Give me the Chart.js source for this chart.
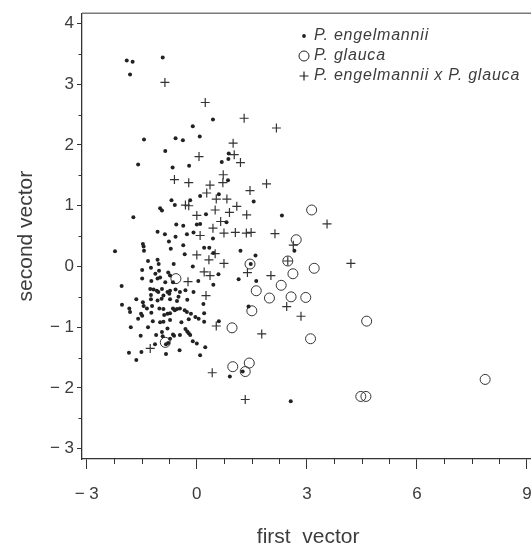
<!DOCTYPE html>
<html><head><meta charset="utf-8">
<script src="https://cdn.jsdelivr.net/npm/chart.js@4/dist/chart.umd.min.js"></script>
<style>
html,body{margin:0;padding:0;background:#fff;overflow:hidden;width:531px;height:550px}
#wrap{position:relative;width:560px;height:550px}
</style>
</head><body><div id="wrap"><canvas id="c" width="560" height="550"></canvas></div>
<script>
const seriesNames = ['P. engelmannii', 'P. glauca', 'P. engelmannii x P. glauca'];

const engelmanniiX = [-1.91,-1.75,-0.93,-1.82,0.44,-0.11,-1.44,-0.58,-0.38,0.08,-0.86,0.87,-1.60,-0.66,-0.21,0.68,0.86,0.85,-0.69,-0.18,0.09,0.60,1.55,
-0.60,-1.00,-0.95,0.25,-1.73,-0.56,-0.37,0.00,0.09,-1.07,-0.87,-0.58,-0.27,-0.09,-0.76,-0.37,-1.47,-1.45,-1.44,-0.71,-2.23,-0.33,0.20,0.34,1.19,1.60,0.45,
-1.33,-1.07,-1.04,-0.63,-1.49,-1.25,-1.03,-0.11,0.59,-1.49,-1.13,-1.07,-1.00,-0.78,-0.73,-0.65,-1.24,-0.86,0.04,0.45,1.14,1.62,
-2.05,-1.27,-1.18,-1.09,-1.05,-0.95,-0.80,-0.73,-0.58,-0.46,-0.31,-0.09,-1.25,-0.91,-0.75,-0.50,-1.65,-1.47,-1.25,-1.07,-0.96,-0.73,-0.54,-0.26,
-2.04,-1.84,-1.45,-1.36,-1.22,-1.02,-0.91,-0.65,-0.60,-0.46,-0.33,0.18,-1.82,-1.60,-1.49,-1.52,-1.24,-0.89,-0.80,-0.73,-0.54,-0.27,-0.16,0.20,-0.04,0.05,
-1.20,-0.91,-0.73,-0.42,-0.22,0.20,0.60,-1.80,-1.33,-1.00,-0.95,-0.80,-0.65,-0.62,-0.46,-0.31,-0.26,-0.18,-0.22,-1.53,-1.11,-0.93,-0.73,
-0.84,-0.78,-0.11,0.00,0.23,-0.47,-1.85,-1.51,-0.84,0.09,
-1.65,-1.14,0.90,1.25,2.56,0.81,0.44,2.32,2.66,1.47,1.41];
const engelmanniiY = [3.39,3.37,3.44,3.16,2.42,2.31,2.09,2.11,2.08,2.14,1.90,1.86,1.68,1.63,1.66,1.72,1.77,1.42,1.09,1.09,1.16,1.19,1.07,
1.01,0.96,0.92,0.86,0.81,0.69,0.67,0.69,0.70,0.57,0.53,0.49,0.53,0.56,0.41,0.35,0.37,0.33,0.26,0.29,0.25,0.20,0.31,0.31,0.26,0.18,0.22,
0.09,0.11,0.04,0.04,-0.06,-0.02,-0.07,0.00,-0.13,-0.20,-0.12,-0.20,-0.18,-0.10,-0.15,-0.26,-0.24,-0.26,-0.24,-0.30,-0.21,-0.24,
-0.32,-0.37,-0.38,-0.40,-0.42,-0.37,-0.42,-0.40,-0.38,-0.42,-0.39,-0.42,-0.47,-0.48,-0.45,-0.50,-0.54,-0.59,-0.54,-0.56,-0.53,-0.54,-0.57,-0.55,
-0.63,-0.69,-0.65,-0.69,-0.65,-0.69,-0.70,-0.69,-0.72,-0.69,-0.72,-0.62,-0.75,-0.86,-0.81,-0.78,-0.76,-0.80,-0.78,-0.77,-0.70,-0.75,-0.78,-0.77,-0.83,-0.86,
-0.90,-0.91,-0.88,-0.92,-0.87,-0.91,-0.90,-1.00,-1.00,-0.92,-1.08,-1.02,-1.12,-1.14,-1.13,-1.03,-1.07,-1.13,-1.10,-1.14,-1.13,-1.15,-1.19,
-1.28,-1.26,-1.23,-1.27,-1.33,-1.38,-1.42,-1.41,-1.44,-1.46,
-1.54,-1.28,-1.81,-1.73,-2.22,0.73,0.46,0.84,0.26,0.04,-0.66];

const glaucaX = [3.13,2.71,2.48,1.45,3.20,2.62,2.30,1.62,1.98,2.57,2.97,1.50,4.63,0.96,3.10,1.43,0.98,1.32,4.47,4.61,7.86,-0.57,-0.86];
const glaucaY = [0.93,0.44,0.09,0.04,-0.03,-0.12,-0.31,-0.40,-0.52,-0.50,-0.51,-0.73,-0.90,-1.01,-1.19,-1.59,-1.65,-1.73,-2.14,-2.14,-1.86,-0.20,-1.25];

const hybridX = [-0.87,0.23,1.29,2.17,0.99,0.06,1.02,1.19,0.72,-0.61,-0.22,0.36,0.71,1.90,1.45,0.27,0.53,0.82,
-0.31,-0.22,0.00,0.50,0.89,1.09,1.36,0.65,0.44,0.74,1.05,1.35,1.48,2.13,0.09,3.55,2.63,2.48,4.20,0.74,0.00,0.33,0.50,
0.20,0.36,1.38,2.02,-0.24,0.25,2.45,2.84,0.53,1.77,-1.27,0.42,1.32];
const hybridY = [3.03,2.70,2.44,2.28,2.03,1.81,1.84,1.71,1.51,1.43,1.38,1.34,1.38,1.36,1.25,1.21,1.11,1.11,
1.01,1.00,0.84,0.93,0.89,0.99,0.85,0.74,0.63,0.55,0.56,0.55,0.56,0.54,0.51,0.70,0.35,0.09,0.05,0.05,0.19,0.11,0.21,
-0.09,-0.15,-0.10,-0.15,-0.25,-0.48,-0.66,-0.82,-0.98,-1.11,-1.35,-1.75,-2.19];

const xTickValues = [-3, 0, 3, 6, 9];
const yTickValues = [-3, -2, -1, 0, 1, 2, 3, 4];
const xMinorStep = 0.75;
const yMinorStep = 0.5;
const xTitle = 'first  vector';
const yTitle = 'second vector';

const toPts = (xs, ys) => xs.map((x, i) => ({x: x, y: ys[i]}));
const fmt = v => v < 0 ? '\u2212 ' + Math.abs(v) : String(v);

const markColor = '#222';
const textColor = '#3c3c3c';
const FONT = '"Liberation Sans", Arial, sans-serif';

const extras = {
  id: 'extras',
  afterDraw(chart) {
    const ctx = chart.ctx;
    const a = chart.chartArea;
    const xs = chart.scales.x, ys = chart.scales.y;
    ctx.save();
    ctx.strokeStyle = '#7a7a7a';
    ctx.lineWidth = 1.5;
    ctx.beginPath();
    ctx.moveTo(a.left, a.top); ctx.lineTo(a.right, a.top); ctx.lineTo(a.right, a.bottom);
    ctx.stroke();
    ctx.strokeStyle = '#333';
    ctx.lineWidth = 1;
    const x0 = xTickValues[0], x1 = xTickValues[xTickValues.length - 1];
    for (let v = x0; v <= x1 + 1e-9; v += xMinorStep) {
      if (xTickValues.some(t => Math.abs(t - v) < 1e-6)) continue;
      const px = Math.round(xs.getPixelForValue(v)) + 0.5;
      ctx.beginPath(); ctx.moveTo(px, a.bottom); ctx.lineTo(px, a.bottom + 5); ctx.stroke();
    }
    const y0 = yTickValues[0], y1 = yTickValues[yTickValues.length - 1];
    for (let v = y0; v <= y1 + 1e-9; v += yMinorStep) {
      if (yTickValues.some(t => Math.abs(t - v) < 1e-6)) continue;
      const py = Math.round(ys.getPixelForValue(v)) + 0.5;
      ctx.beginPath(); ctx.moveTo(a.left - 3.5, py); ctx.lineTo(a.left, py); ctx.stroke();
    }
    const lx = 304, ly = 36, gap = 20;
    ctx.font = 'italic 16px ' + FONT;
    try { ctx.letterSpacing = '0.8px'; } catch (e) {}
    ctx.textBaseline = 'middle';
    seriesNames.forEach((name, i) => {
      const y = ly + i * gap;
      ctx.strokeStyle = markColor; ctx.fillStyle = markColor;
      if (i === 0) {
        ctx.beginPath(); ctx.arc(lx, y, 1.9, 0, Math.PI * 2); ctx.fill();
      } else if (i === 1) {
        ctx.lineWidth = 1; ctx.beginPath(); ctx.arc(lx, y, 5, 0, Math.PI * 2); ctx.stroke();
      } else {
        ctx.lineWidth = 1.2; ctx.beginPath();
        ctx.moveTo(lx - 4.5, y); ctx.lineTo(lx + 4.5, y); ctx.moveTo(lx, y - 4.5); ctx.lineTo(lx, y + 4.5); ctx.stroke();
      }
      ctx.fillStyle = textColor;
      ctx.fillText(name, lx + 10, y);
    });
    ctx.restore();
  }
};

new Chart(document.getElementById('c'), {
  type: 'scatter',
  data: {
    datasets: [
      {label: seriesNames[0], data: toPts(engelmanniiX, engelmanniiY), pointStyle: 'circle', pointRadius: 2,
       pointBackgroundColor: markColor, pointBorderWidth: 0, pointBorderColor: markColor},
      {label: seriesNames[1], data: toPts(glaucaX, glaucaY), pointStyle: 'circle', pointRadius: 5,
       pointBackgroundColor: 'rgba(0,0,0,0)', pointBorderColor: '#333', pointBorderWidth: 1},
      {label: seriesNames[2], data: toPts(hybridX, hybridY), pointStyle: 'cross', pointRadius: 4.5,
       pointBorderColor: '#333', pointBorderWidth: 1.2}
    ]
  },
  options: {
    responsive: false,
    animation: false,
    devicePixelRatio: 1,
    layout: {padding: {top: 10, right: 25.7, left: 0, bottom: 0}},
    plugins: {legend: {display: false}, tooltip: {enabled: false}},
    scales: {
      x: {
        type: 'linear', min: -3.13, max: 9.2,
        afterBuildTicks: s => { s.ticks = xTickValues.map(v => ({value: v})); },
        afterFit: s => { s.height = 91; },
        grid: {drawOnChartArea: false, drawTicks: true, tickLength: 10, tickColor: '#333', tickWidth: 1},
        border: {display: true, color: '#333', width: 1.3},
        ticks: {callback: v => fmt(v), color: textColor, font: {family: FONT, size: 17}, padding: 15, maxRotation: 0},
        title: {display: true, text: xTitle, color: textColor, font: {family: FONT, size: 21}, padding: {top: 0, bottom: 0}}
      },
      y: {
        type: 'linear', min: -3.17, max: 4.17,
        afterBuildTicks: s => { s.ticks = yTickValues.map(v => ({value: v})); },
        afterFit: s => { s.width = 82; },
        grid: {drawOnChartArea: false, drawTicks: true, tickLength: 5, tickColor: '#333', tickWidth: 1},
        border: {display: true, color: '#333', width: 1.3},
        ticks: {callback: v => fmt(v), color: textColor, font: {family: FONT, size: 17}, padding: 3},
        title: {display: true, text: yTitle, color: textColor, font: {family: FONT, size: 21}, padding: {top: 14, bottom: 0}}
      }
    }
  },
  plugins: [extras]
});
</script>
</body></html>
